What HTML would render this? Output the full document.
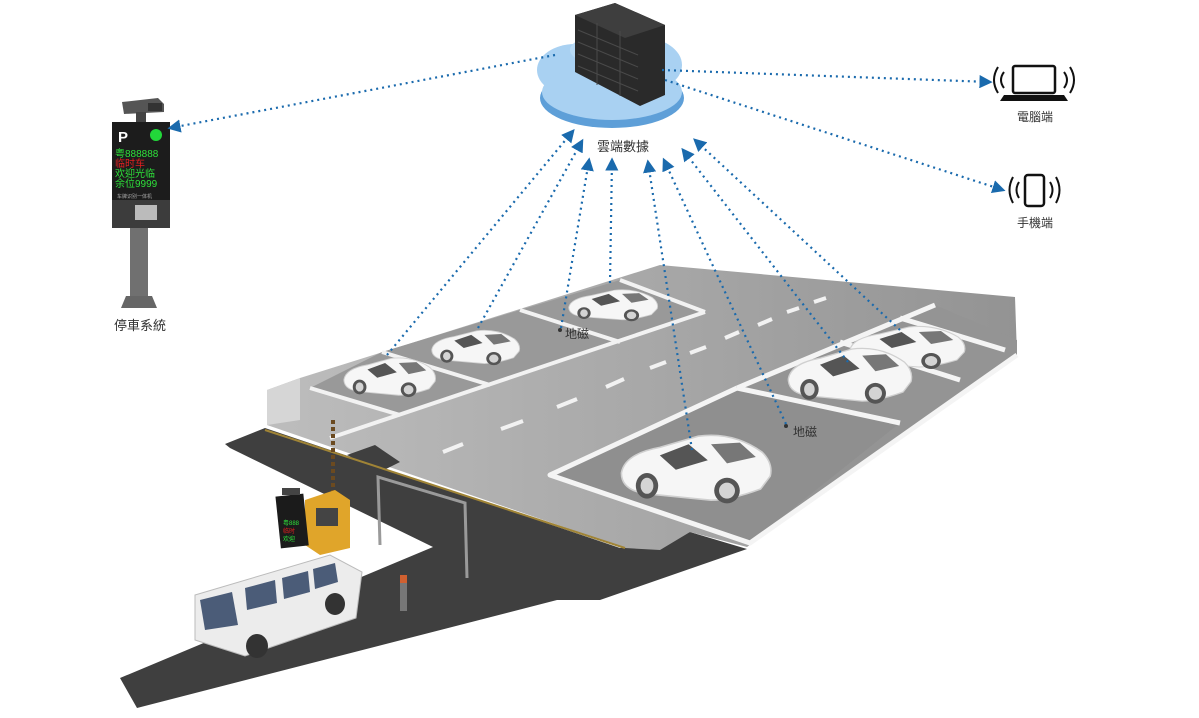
<!DOCTYPE html>
<html><head><meta charset="utf-8"><style>
html,body{margin:0;padding:0;background:#fff;}
svg{display:block;}
text{font-family:"Liberation Sans","Noto Sans CJK TC",sans-serif;}
</style></head><body>
<svg width="1199" height="718" viewBox="0 0 1199 718" xmlns="http://www.w3.org/2000/svg">
<defs>
<marker id="ah" viewBox="0 0 10 10" refX="8" refY="5" markerWidth="6" markerHeight="6" orient="auto-start-reverse">
<path d="M0,0 L10,5 L0,10 Z" fill="#1a6aad"/></marker>
<linearGradient id="lot" x1="0" y1="0" x2="1" y2="0">
<stop offset="0" stop-color="#bdbdbd"/><stop offset="0.5" stop-color="#a8a8a8"/><stop offset="1" stop-color="#939393"/></linearGradient>
<g id="car">
<path d="M4,30 Q6,18 28,14 L52,7 Q74,4 92,17 Q99,24 97,32 L91,40 Q72,47 60,47 L20,43 Q4,41 4,30 Z" fill="#f6f6f6" stroke="#d0d0d0" stroke-width="1"/>
<polygon points="28,19 46,12 58,22 38,28" fill="#555"/>
<polygon points="60,12 78,11 88,20 70,24" fill="#777"/>
<ellipse cx="20" cy="38" rx="7" ry="8" fill="#555"/><ellipse cx="20" cy="38" rx="4" ry="5" fill="#d4d4d4"/>
<ellipse cx="70" cy="41" rx="8" ry="8" fill="#555"/><ellipse cx="70" cy="41" rx="5" ry="5" fill="#d4d4d4"/>
</g>
</defs>

<!-- dark road -->
<polygon points="225,444 265,428 620,548 690,532 747,549 600,600 557,600 137,708 120,678 433,547 230,448" fill="#3f3f3f"/>
<!-- lot -->
<polygon points="300,378 660,265 1015,297 1017,355 747,547 690,532 660,550 625,548 267,425 267,390" fill="url(#lot)"/>
<polygon points="267,390 300,378 300,420 267,425" fill="#d6d6d6"/>
<polygon points="347,455 375,445 400,462 380,472" fill="#3f3f3f"/>
<polyline points="265,430 625,548" stroke="#a08436" stroke-width="2" fill="none"/>

<!-- upper row spaces -->
<polygon points="310,388 382,352 490,385 400,415" fill="#999"/>
<polygon points="382,352 520,310 620,342 490,385" fill="#999"/>
<polygon points="520,310 620,280 705,312 620,342" fill="#999"/>
<g stroke="#f2f2f2" stroke-width="4" fill="none">
<polyline points="330,438 705,312"/>
<line x1="490" y1="385" x2="382" y2="352"/>
<line x1="620" y1="342" x2="520" y2="310"/>
<line x1="705" y1="312" x2="620" y2="280"/>
<line x1="400" y1="415" x2="310" y2="388"/>
</g>
<!-- lane dashes -->
<g stroke="#f2f2f2" stroke-width="4" stroke-linecap="butt">
<line x1="443" y1="452" x2="463" y2="444"/><line x1="501" y1="429" x2="523" y2="421"/>
<line x1="557" y1="407" x2="577" y2="399"/><line x1="606" y1="387" x2="624" y2="379"/>
<line x1="650" y1="368" x2="666" y2="362"/><line x1="690" y1="353" x2="706" y2="347"/>
<line x1="725" y1="338" x2="739" y2="332"/><line x1="758" y1="325" x2="772" y2="319"/>
<line x1="787" y1="312" x2="799" y2="308"/><line x1="814" y1="302" x2="826" y2="298"/>
</g>
<!-- right row spaces -->
<polygon points="550,475 737,388 900,423 750,543" fill="#8f8f8f"/>
<polygon points="737,388 935,305 1017,340 1017,355 750,543 900,423" fill="#949494"/>
<g stroke="#f4f4f4" stroke-width="5" fill="none" stroke-linejoin="round">
<polyline points="737,388 550,475 750,543 1017,355"/>
<polyline points="737,388 935,305"/>
<line x1="737" y1="388" x2="900" y2="423"/>
<line x1="840" y1="342" x2="960" y2="380"/>
<line x1="900" y1="318" x2="1005" y2="350"/>
</g>

<!-- cars -->
<use href="#car" transform="translate(340,352) scale(0.98,0.92)"/>
<use href="#car" transform="translate(428,325) scale(0.94,0.82)"/>
<use href="#car" transform="translate(565,285) scale(0.95,0.74)"/>
<use href="#car" transform="translate(845,320) scale(1.23,1.0)"/>
<use href="#car" transform="translate(783,340) scale(1.32,1.3)"/>
<use href="#car" transform="translate(615,425) scale(1.6,1.6)"/>

<!-- gate -->
<g stroke="#9a9a9a" stroke-width="3" fill="none">
<polyline points="380,545 378,477 465,503 467,578"/>
</g>
<line x1="333" y1="420" x2="333" y2="545" stroke="#6b4a20" stroke-width="4" stroke-dasharray="4 3"/>
<polygon points="305,500 335,490 350,500 350,548 320,555 305,545" fill="#e0a52a"/>
<rect x="316" y="508" width="22" height="18" fill="#444"/>
<rect x="278" y="495" width="28" height="52" fill="#1b1b1b" transform="rotate(-6 292 520)"/>
<text x="283" y="525" font-size="6" fill="#2ee03a">粤888</text>
<text x="283" y="533" font-size="6" fill="#e02020">临时</text>
<text x="283" y="541" font-size="6" fill="#2ee03a">欢迎</text>
<rect x="282" y="488" width="18" height="7" fill="#444"/>
<rect x="400" y="575" width="7" height="36" fill="#777"/><rect x="400" y="575" width="7" height="8" fill="#d06030"/>

<!-- van -->
<polygon points="195,595 330,555 362,572 356,618 245,656 195,640" fill="#ececec" stroke="#bbb"/>
<polygon points="200,600 232,592 238,625 205,630" fill="#4b5c78"/>
<polygon points="245,588 275,580 277,603 247,610" fill="#4b5c78"/>
<polygon points="282,578 308,571 310,592 284,599" fill="#4b5c78"/>
<polygon points="313,569 335,563 338,582 315,589" fill="#4b5c78"/>
<ellipse cx="257" cy="646" rx="11" ry="12" fill="#333"/>
<ellipse cx="335" cy="604" rx="10" ry="11" fill="#333"/>

<!-- left terminal -->
<polygon points="122,102 158,98 164,104 164,112 124,114" fill="#555"/>
<rect x="148" y="103" width="14" height="8" fill="#333"/>
<rect x="136" y="112" width="10" height="10" fill="#444"/>
<rect x="112" y="122" width="58" height="78" fill="#1c1c1c"/>
<text x="118" y="142" font-size="15" font-weight="bold" fill="#fff">P</text>
<circle cx="156" cy="135" r="6" fill="#22d83a"/>
<text x="115" y="157" font-size="10" fill="#2ee03a">粤888888</text>
<text x="115" y="167" font-size="10" fill="#e02020">临时车</text>
<text x="115" y="177" font-size="10" fill="#2ee03a">欢迎光临</text>
<text x="115" y="187" font-size="10" fill="#2ee03a">余位9999</text>
<text x="117" y="198" font-size="5" fill="#aaa">车牌识别一体机</text>
<rect x="112" y="200" width="58" height="28" fill="#3c3c3c"/>
<rect x="135" y="205" width="22" height="15" fill="#bbb"/>
<rect x="130" y="228" width="18" height="70" fill="#707070"/>
<polygon points="126,296 152,296 157,308 121,308" fill="#666"/>
<text x="140" y="330" font-size="13" fill="#333" text-anchor="middle">停車系統</text>

<!-- cloud -->
<g>
<ellipse cx="612" cy="98" rx="72" ry="30" fill="#5e9fd8"/>
<ellipse cx="575" cy="70" rx="38" ry="26" fill="#a9d1f2"/>
<ellipse cx="640" cy="65" rx="42" ry="28" fill="#a9d1f2"/>
<ellipse cx="612" cy="92" rx="70" ry="28" fill="#a9d1f2"/>
<ellipse cx="600" cy="50" rx="30" ry="14" fill="#b8daf5"/>
</g>
<!-- servers -->
<polygon points="575,15 615,3 665,25 665,95 640,106 575,72" fill="#2a2a2a"/>
<polygon points="575,15 615,3 665,25 625,38" fill="#3e3e3e"/>
<g stroke="#4a4a4a" stroke-width="1">
<line x1="597" y1="23" x2="597" y2="85"/><line x1="620" y1="31" x2="620" y2="96"/>
<line x1="578" y1="30" x2="638" y2="55"/><line x1="578" y1="42" x2="638" y2="67"/>
<line x1="578" y1="54" x2="638" y2="79"/><line x1="578" y1="66" x2="638" y2="91"/>
</g>
<text x="623" y="151" font-size="13" fill="#333" text-anchor="middle">雲端數據</text>

<!-- laptop -->
<rect x="1013" y="66" width="42" height="27" rx="2" fill="none" stroke="#111" stroke-width="2.5"/>
<polygon points="1004,95 1064,95 1068,101 1000,101" fill="#111"/>
<g fill="none" stroke="#111" stroke-width="2">
<path d="M1004,72 Q998,80 1004,88"/><path d="M998,67 Q990,80 998,93"/>
<path d="M1064,72 Q1070,80 1064,88"/><path d="M1070,67 Q1078,80 1070,93"/>
</g>
<text x="1035" y="121" font-size="12" fill="#333" text-anchor="middle">電腦端</text>
<!-- phone -->
<rect x="1025" y="175" width="19" height="31" rx="3" fill="none" stroke="#111" stroke-width="2.5"/>
<g fill="none" stroke="#111" stroke-width="2">
<path d="M1019,182 Q1014,190 1019,198"/><path d="M1013,177 Q1006,190 1013,203"/>
<path d="M1050,182 Q1055,190 1050,198"/><path d="M1056,177 Q1063,190 1056,203"/>
</g>
<text x="1035" y="227" font-size="12" fill="#333" text-anchor="middle">手機端</text>

<!-- 地磁 -->
<circle cx="560" cy="330" r="2" fill="#333"/>
<text x="565" y="338" font-size="12" fill="#333">地磁</text>
<circle cx="786" cy="426" r="2" fill="#333"/>
<text x="793" y="436" font-size="12" fill="#333">地磁</text>

<!-- dotted connectors -->
<g stroke="#1a6aad" stroke-width="2.2" stroke-dasharray="2 4" stroke-linecap="butt" fill="none">
<line x1="555" y1="55" x2="170" y2="128" marker-end="url(#ah)"/>
<line x1="662" y1="70" x2="990" y2="82" marker-end="url(#ah)"/>
<line x1="665" y1="80" x2="1003" y2="190" marker-end="url(#ah)"/>
<line x1="387" y1="355" x2="573" y2="131" marker-end="url(#ah)"/>
<line x1="478" y1="328" x2="582" y2="141" marker-end="url(#ah)"/>
<line x1="561" y1="328" x2="589" y2="160" marker-end="url(#ah)"/>
<line x1="610" y1="283" x2="612" y2="160" marker-end="url(#ah)"/>
<line x1="692" y1="450" x2="648" y2="162" marker-end="url(#ah)"/>
<line x1="786" y1="424" x2="664" y2="160" marker-end="url(#ah)"/>
<line x1="848" y1="362" x2="683" y2="150" marker-end="url(#ah)"/>
<line x1="900" y1="330" x2="695" y2="140" marker-end="url(#ah)"/>
</g>
</svg>
</body></html>
